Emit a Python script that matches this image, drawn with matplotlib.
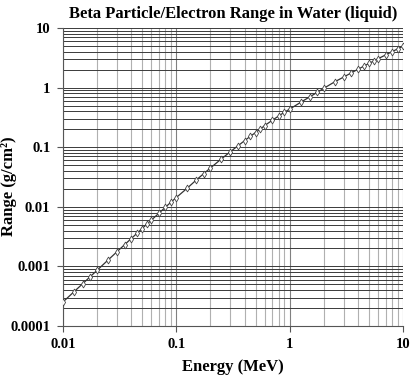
import matplotlib
matplotlib.use("Agg")
import matplotlib.pyplot as plt
from matplotlib.ticker import FixedLocator, LogLocator, NullFormatter

# ESTAR CSDA range of electrons in liquid water
energy = [0.01, 0.0125, 0.015, 0.0175, 0.02, 0.025, 0.03, 0.035, 0.04, 0.045,
          0.05, 0.055, 0.06, 0.07, 0.08, 0.09, 0.1, 0.125, 0.15, 0.175,
          0.2, 0.25, 0.3, 0.35, 0.4, 0.45, 0.5, 0.55, 0.6, 0.7,
          0.8, 0.9, 1.0, 1.25, 1.5, 1.75, 2.0, 2.5, 3.0, 3.5,
          4.0, 4.5, 5.0, 5.5, 6.0, 7.0, 8.0, 9.0, 10.0]
rng = [2.515e-4, 3.728e-4, 5.147e-4, 6.762e-4, 8.573e-4, 1.276e-3, 1.761e-3, 2.310e-3, 2.919e-3, 3.586e-3,
       4.320e-3, 5.094e-3, 5.927e-3, 7.755e-3, 9.791e-3, 1.202e-2, 1.431e-2, 2.060e-2, 2.817e-2, 3.620e-2,
       4.488e-2, 6.380e-2, 8.421e-2, 1.059e-1, 1.288e-1, 1.526e-1, 1.766e-1, 2.014e-1, 2.303e-1, 2.825e-1,
       3.351e-1, 3.883e-1, 4.367e-1, 5.683e-1, 7.010e-1, 8.339e-1, 9.785e-1, 1.257, 1.514, 1.777,
       2.037, 2.295, 2.550, 2.802, 3.052, 3.545, 4.030, 4.506, 4.975]

xticks = [0.01, 0.1, 1, 10]
xlabels = ["0.01", "0.1", "1", "10"]
yticks = [0.0001, 0.001, 0.01, 0.1, 1, 10]
ylabels = ["0.0001", "0.001", "0.01", "0.1", "1", "10"]

plt.rcParams["font.family"] = ["Liberation Serif", "DejaVu Serif"]
plt.rcParams["font.weight"] = "bold"

fig = plt.figure(figsize=(4.16, 3.78), dpi=100)
ax = fig.add_axes([0.151, 0.1376, 0.818, 0.788])

ax.set_xscale("log")
ax.set_yscale("log")
ax.set_xlim(0.01, 10)
ax.set_ylim(0.0001, 10)

# grid: horizontal dark, vertical light
ax.xaxis.set_minor_locator(LogLocator(base=10, subs=range(2, 10)))
ax.yaxis.set_minor_locator(LogLocator(base=10, subs=range(2, 10)))
ax.xaxis.set_minor_formatter(NullFormatter())
ax.yaxis.set_minor_formatter(NullFormatter())
ax.grid(True, which="both", axis="y", color="#3a3a3a", lw=0.7)
ax.grid(True, which="minor", axis="x", color="#b0b0b0", lw=0.8)
ax.grid(True, which="major", axis="x", color="#808080", lw=0.8)

ax.plot(energy, rng, color="#333333", lw=0.9, marker="d", ms=3.5,
        mfc="white", mec="#444444", mew=0.6, zorder=3)

ax.xaxis.set_major_locator(FixedLocator(xticks))
ax.yaxis.set_major_locator(FixedLocator(yticks))
ax.set_xticklabels(xlabels, fontsize=10.5, fontweight="bold")
ax.set_yticklabels(ylabels, fontsize=10.5, fontweight="bold")
ax.tick_params(which="major", direction="out", length=4, width=0.8, color="#555555")
ax.tick_params(axis="x", pad=5)
ax.tick_params(axis="y", pad=5)
ax.tick_params(which="minor", length=0)

for s in ["top", "right"]:
    ax.spines[s].set_visible(False)
for s in ["left", "bottom"]:
    ax.spines[s].set_color("#555555")
    ax.spines[s].set_linewidth(0.8)

ax.set_title("Beta Particle/Electron Range in Water (liquid)", fontsize=12,
             fontweight="bold", pad=7)
ax.set_xlabel("Energy (MeV)", fontsize=12, fontweight="bold")
ax.xaxis.set_label_coords(0.5, -0.11)
ax.set_ylabel("Range (g/cm²)", fontsize=12, fontweight="bold")
ax.yaxis.set_label_coords(-0.135, 0.47)

fig.savefig("out.png", dpi=100)
